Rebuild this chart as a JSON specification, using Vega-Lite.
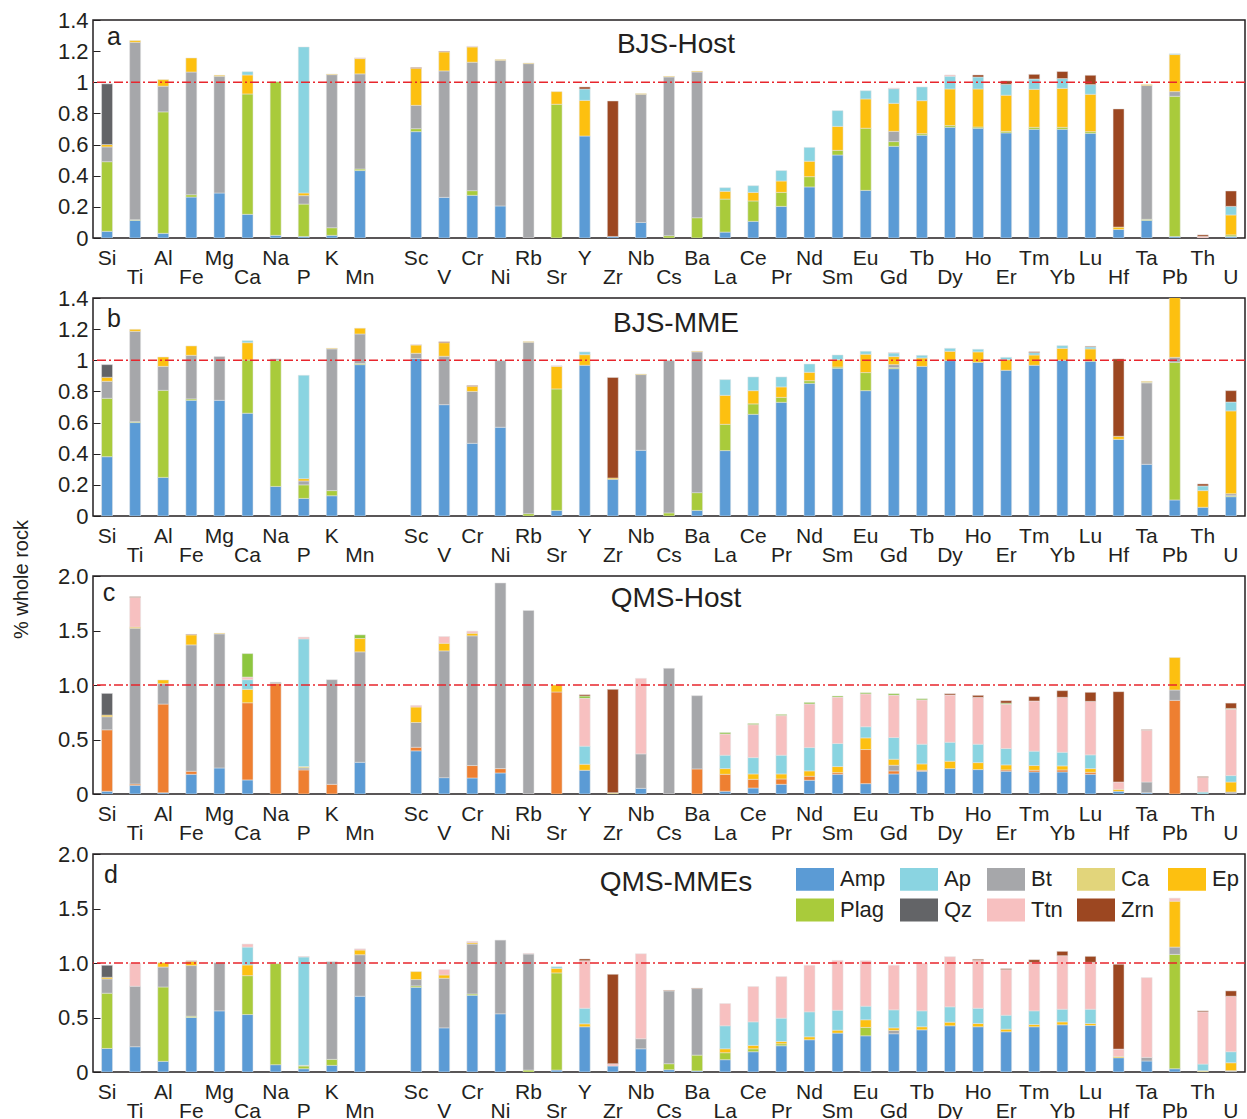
{
"$schema": "https://vega.github.io/schema/vega-lite/v6.json",
"padding": {"top": 8, "left": 10, "right": 0, "bottom": 0},
"background": "white",
"bounds": "flush",
"spacing": 60,
"config": {"font": "Liberation Sans", "view": {"stroke": "#231f20", "strokeWidth": 1.5}, "axis": {"labelOverlap": false}},
"datasets": {"d": [
{"p":"a","e":"Si","Amp":0.043,"Plag":0.447,"Bt":0.095,"Ep":0.015,"Qz":0.39},
{"p":"a","e":"Ti","Amp":0.113,"Plag":0.005,"Bt":1.139,"Ep":0.011},
{"p":"a","e":"Al","Amp":0.03,"Plag":0.78,"Bt":0.165,"Ep":0.042},
{"p":"a","e":"Fe","Amp":0.263,"Plag":0.015,"Bt":0.788,"Ep":0.09},
{"p":"a","e":"Mg","Amp":0.289,"Bt":0.75,"Ep":0.006},
{"p":"a","e":"Ca","Amp":0.152,"Plag":0.773,"Ep":0.122,"Ap":0.021},
{"p":"a","e":"Na","Amp":0.017,"Plag":0.987},
{"p":"a","e":"P","Amp":0.01,"Plag":0.208,"Bt":0.054,"Ep":0.017,"Ap":0.938},
{"p":"a","e":"K","Amp":0.017,"Plag":0.049,"Bt":0.983,"Ep":0.004},
{"p":"a","e":"Mn","Amp":0.433,"Plag":0.01,"Bt":0.611,"Ep":0.098,"Ttn":0.005},
{"p":"a","e":"Sc","Amp":0.683,"Plag":0.019,"Bt":0.15,"Ep":0.238,"Zrn":0.005},
{"p":"a","e":"V","Amp":0.261,"Bt":0.812,"Ep":0.122,"Zrn":0.004},
{"p":"a","e":"Cr","Amp":0.274,"Plag":0.03,"Bt":0.825,"Ep":0.098,"Ttn":0.004},
{"p":"a","e":"Ni","Amp":0.206,"Bt":0.935,"Ep":0.005},
{"p":"a","e":"Rb","Bt":1.12,"Ep":0.004},
{"p":"a","e":"Sr","Plag":0.859,"Ep":0.081},
{"p":"a","e":"Y","Amp":0.655,"Ep":0.229,"Ap":0.073,"Zrn":0.013},
{"p":"a","e":"Zr","Amp":0.01,"Zrn":0.87},
{"p":"a","e":"Nb","Amp":0.1,"Bt":0.823,"Ep":0.004},
{"p":"a","e":"Cs","Plag":0.015,"Bt":1.019,"Ep":0.004},
{"p":"a","e":"Ba","Plag":0.13,"Bt":0.936,"Ep":0.005},
{"p":"a","e":"La","Amp":0.038,"Plag":0.212,"Ep":0.05,"Ap":0.023},
{"p":"a","e":"Ce","Amp":0.107,"Plag":0.131,"Ep":0.055,"Ap":0.043},
{"p":"a","e":"Pr","Amp":0.203,"Plag":0.09,"Ep":0.073,"Ap":0.067},
{"p":"a","e":"Nd","Amp":0.328,"Plag":0.066,"Ep":0.099,"Ap":0.089},
{"p":"a","e":"Sm","Amp":0.533,"Plag":0.03,"Ep":0.154,"Ap":0.101},
{"p":"a","e":"Eu","Amp":0.306,"Plag":0.399,"Ep":0.188,"Ap":0.053},
{"p":"a","e":"Gd","Amp":0.589,"Plag":0.03,"Bt":0.066,"Ep":0.18,"Ap":0.094,"Ttn":0.004},
{"p":"a","e":"Tb","Amp":0.66,"Plag":0.01,"Ep":0.212,"Ap":0.088},
{"p":"a","e":"Dy","Amp":0.711,"Plag":0.011,"Ep":0.235,"Ap":0.082,"Ttn":0.008},
{"p":"a","e":"Ho","Amp":0.705,"Plag":0.008,"Ep":0.244,"Ap":0.077,"Zrn":0.013},
{"p":"a","e":"Er","Amp":0.675,"Plag":0.01,"Ep":0.232,"Ap":0.07,"Zrn":0.022},
{"p":"a","e":"Tm","Amp":0.698,"Plag":0.013,"Ep":0.244,"Ap":0.066,"Zrn":0.03},
{"p":"a","e":"Yb","Amp":0.698,"Plag":0.013,"Ep":0.25,"Ap":0.063,"Zrn":0.045},
{"p":"a","e":"Lu","Amp":0.672,"Plag":0.011,"Ep":0.24,"Ap":0.062,"Zrn":0.06},
{"p":"a","e":"Hf","Amp":0.055,"Ep":0.015,"Zrn":0.759},
{"p":"a","e":"Ta","Amp":0.113,"Plag":0.007,"Bt":0.859,"Ep":0.006},
{"p":"a","e":"Pb","Amp":0.01,"Plag":0.9,"Bt":0.03,"Ep":0.238,"Ap":0.005},
{"p":"a","e":"Th","Ttn":0.01,"Zrn":0.01},
{"p":"a","e":"U","Amp":0.01,"Plag":0.01,"Ep":0.128,"Ap":0.055,"Zrn":0.099},

{"p":"b","e":"Si","Amp":0.381,"Plag":0.375,"Bt":0.109,"Ep":0.026,"Qz":0.081},
{"p":"b","e":"Ti","Amp":0.6,"Plag":0.006,"Bt":0.58,"Ep":0.013},
{"p":"b","e":"Al","Amp":0.248,"Plag":0.559,"Bt":0.154,"Ep":0.06},
{"p":"b","e":"Fe","Amp":0.743,"Plag":0.009,"Bt":0.28,"Ep":0.06},
{"p":"b","e":"Mg","Amp":0.743,"Bt":0.281},
{"p":"b","e":"Ca","Amp":0.66,"Plag":0.342,"Ep":0.111,"Ap":0.013},
{"p":"b","e":"Na","Amp":0.19,"Plag":0.81,"Bt":0.009},
{"p":"b","e":"P","Amp":0.113,"Plag":0.087,"Bt":0.025,"Ep":0.015,"Ap":0.664},
{"p":"b","e":"K","Amp":0.13,"Plag":0.033,"Bt":0.91,"Ep":0.004},
{"p":"b","e":"Mn","Amp":0.972,"Plag":0.007,"Bt":0.19,"Ep":0.037},
{"p":"b","e":"Sc","Amp":1.011,"Bt":0.034,"Ep":0.053,"Ttn":0.003},
{"p":"b","e":"V","Amp":0.715,"Bt":0.311,"Ep":0.087,"Zrn":0.006},
{"p":"b","e":"Cr","Amp":0.467,"Bt":0.333,"Ep":0.033,"Zrn":0.005},
{"p":"b","e":"Ni","Amp":0.57,"Bt":0.428},
{"p":"b","e":"Rb","Plag":0.015,"Bt":1.101,"Ep":0.004},
{"p":"b","e":"Sr","Amp":0.036,"Plag":0.78,"Ep":0.145,"Ttn":0.004},
{"p":"b","e":"Y","Amp":0.968,"Ep":0.068,"Ap":0.018},
{"p":"b","e":"Zr","Amp":0.236,"Ep":0.008,"Zrn":0.646},
{"p":"b","e":"Nb","Amp":0.422,"Bt":0.486,"Ep":0.004},
{"p":"b","e":"Cs","Plag":0.02,"Bt":0.978},
{"p":"b","e":"Ba","Amp":0.036,"Plag":0.114,"Bt":0.904,"Ep":0.004},
{"p":"b","e":"La","Amp":0.42,"Plag":0.169,"Ep":0.186,"Ap":0.101},
{"p":"b","e":"Ce","Amp":0.653,"Plag":0.067,"Ep":0.085,"Ap":0.088},
{"p":"b","e":"Pr","Amp":0.73,"Plag":0.032,"Ep":0.067,"Ap":0.064},
{"p":"b","e":"Nd","Amp":0.852,"Plag":0.017,"Ep":0.054,"Ap":0.053},
{"p":"b","e":"Sm","Amp":0.949,"Plag":0.008,"Ep":0.047,"Ap":0.03},
{"p":"b","e":"Eu","Amp":0.805,"Plag":0.116,"Ep":0.118,"Ap":0.019},
{"p":"b","e":"Gd","Amp":0.946,"Plag":0.007,"Bt":0.019,"Ep":0.052,"Ap":0.023,"Ttn":0.003},
{"p":"b","e":"Tb","Amp":0.961,"Ep":0.054,"Ap":0.017},
{"p":"b","e":"Dy","Amp":0.998,"Ep":0.06,"Ap":0.019},
{"p":"b","e":"Ho","Amp":0.987,"Ep":0.067,"Ap":0.017},
{"p":"b","e":"Er","Amp":0.936,"Ep":0.068,"Ap":0.015},
{"p":"b","e":"Tm","Amp":0.968,"Ep":0.066,"Ap":0.015,"Zrn":0.006},
{"p":"b","e":"Yb","Amp":1.0,"Ep":0.077,"Ap":0.017},
{"p":"b","e":"Lu","Amp":0.994,"Ep":0.079,"Ap":0.013,"Zrn":0.004},
{"p":"b","e":"Hf","Amp":0.492,"Ep":0.02,"Zrn":0.497},
{"p":"b","e":"Ta","Amp":0.332,"Ca":0.006,"Bt":0.523,"Ep":0.004},
{"p":"b","e":"Pb","Amp":0.103,"Plag":0.884,"Bt":0.032,"Ep":0.45},
{"p":"b","e":"Th","Amp":0.056,"Ep":0.107,"Ap":0.03,"Zrn":0.013},
{"p":"b","e":"U","Amp":0.124,"Plag":0.006,"Bt":0.013,"Ep":0.532,"Ap":0.057,"Zrn":0.073},

{"p":"c","e":"Si","Amp":0.025,"Kfs":0.564,"Bt":0.12,"Ep":0.015,"Qz":0.199},
{"p":"c","e":"Ti","Amp":0.08,"Kfs":0.012,"Bt":1.429,"Ep":0.01,"Ttn":0.273,"Zrn":0.006},
{"p":"c","e":"Al","Amp":0.012,"Kfs":0.813,"Bt":0.187,"Ep":0.034},
{"p":"c","e":"Fe","Amp":0.181,"Kfs":0.028,"Bt":1.159,"Ep":0.092,"Zrn":0.005},
{"p":"c","e":"Mg","Amp":0.239,"Bt":1.23,"Ep":0.006},
{"p":"c","e":"Ca","Amp":0.129,"Kfs":0.708,"Ep":0.123,"Ap":0.089,"Ttn":0.022,"Plag":0.217},
{"p":"c","e":"Na","Kfs":1.015,"Bt":0.01},
{"p":"c","e":"P","Kfs":0.221,"Bt":0.018,"Ca":0.013,"Ap":1.171,"Ttn":0.016},
{"p":"c","e":"K","Kfs":0.089,"Bt":0.96},
{"p":"c","e":"Mn","Amp":0.291,"Bt":1.013,"Ep":0.122,"Plag":0.034},
{"p":"c","e":"Sc","Amp":0.396,"Kfs":0.033,"Bt":0.227,"Ep":0.142,"Ttn":0.015},
{"p":"c","e":"V","Amp":0.15,"Bt":1.163,"Ep":0.07,"Ttn":0.062},
{"p":"c","e":"Cr","Amp":0.147,"Kfs":0.114,"Bt":1.19,"Ep":0.024,"Ttn":0.019},
{"p":"c","e":"Ni","Amp":0.193,"Kfs":0.04,"Bt":1.703},
{"p":"c","e":"Rb","Bt":1.684},
{"p":"c","e":"Sr","Kfs":0.936,"Ep":0.064},
{"p":"c","e":"Y","Amp":0.218,"Ep":0.055,"Ap":0.166,"Ttn":0.438,"Plag":0.022,"Zrn":0.012},
{"p":"c","e":"Zr","Ca":0.012,"Zrn":0.948},
{"p":"c","e":"Nb","Amp":0.052,"Bt":0.316,"Ttn":0.693},
{"p":"c","e":"Cs","Bt":1.153},
{"p":"c","e":"Ba","Kfs":0.23,"Bt":0.672},
{"p":"c","e":"La","Amp":0.025,"Kfs":0.156,"Ep":0.052,"Ap":0.123,"Ttn":0.193,"Plag":0.015},
{"p":"c","e":"Ce","Amp":0.055,"Kfs":0.08,"Ep":0.049,"Ap":0.15,"Ttn":0.301,"Plag":0.012},
{"p":"c","e":"Pr","Amp":0.089,"Kfs":0.049,"Ep":0.046,"Ap":0.172,"Ttn":0.362,"Plag":0.012},
{"p":"c","e":"Nd","Amp":0.126,"Kfs":0.037,"Ep":0.049,"Ap":0.214,"Ttn":0.399,"Plag":0.015},
{"p":"c","e":"Sm","Amp":0.181,"Kfs":0.015,"Ep":0.056,"Ap":0.211,"Ttn":0.424,"Plag":0.012},
{"p":"c","e":"Eu","Amp":0.095,"Kfs":0.313,"Ep":0.107,"Ap":0.102,"Ttn":0.3,"Plag":0.012},
{"p":"c","e":"Gd","Amp":0.184,"Kfs":0.028,"Bt":0.052,"Ep":0.055,"Ap":0.199,"Ttn":0.387,"Plag":0.015},
{"p":"c","e":"Tb","Amp":0.209,"Kfs":0.009,"Ep":0.058,"Ap":0.181,"Ttn":0.405,"Plag":0.012},
{"p":"c","e":"Dy","Amp":0.233,"Ep":0.068,"Ap":0.174,"Ttn":0.433,"Zrn":0.012},
{"p":"c","e":"Ho","Amp":0.224,"Ep":0.064,"Ap":0.169,"Ttn":0.43,"Zrn":0.018},
{"p":"c","e":"Er","Amp":0.209,"Kfs":0.012,"Ep":0.046,"Ap":0.15,"Ttn":0.405,"Plag":0.012,"Zrn":0.022},
{"p":"c","e":"Tm","Amp":0.202,"Kfs":0.016,"Ep":0.043,"Ap":0.132,"Ttn":0.46,"Zrn":0.04},
{"p":"c","e":"Yb","Amp":0.202,"Kfs":0.019,"Ep":0.037,"Ap":0.125,"Ttn":0.504,"Zrn":0.061},
{"p":"c","e":"Lu","Amp":0.181,"Kfs":0.018,"Ep":0.034,"Ap":0.126,"Ttn":0.491,"Zrn":0.083},
{"p":"c","e":"Hf","Amp":0.025,"Ep":0.018,"Ttn":0.067,"Zrn":0.829},
{"p":"c","e":"Ta","Amp":0.012,"Bt":0.098,"Ttn":0.476,"Zrn":0.004},
{"p":"c","e":"Pb","Kfs":0.859,"Bt":0.095,"Ep":0.298},
{"p":"c","e":"Th","Ap":0.018,"Ttn":0.135,"Zrn":0.007},
{"p":"c","e":"U","Bt":0.018,"Ep":0.092,"Ap":0.059,"Ttn":0.607,"Plag":0.009,"Zrn":0.049},

{"p":"d","e":"Si","Amp":0.216,"Plag":0.507,"Bt":0.131,"Ep":0.015,"Qz":0.11},
{"p":"d","e":"Ti","Amp":0.232,"Bt":0.555,"Ttn":0.213},
{"p":"d","e":"Al","Amp":0.098,"Plag":0.682,"Bt":0.183,"Ep":0.04},
{"p":"d","e":"Fe","Amp":0.5,"Plag":0.012,"Bt":0.464,"Ep":0.039,"Zrn":0.005},
{"p":"d","e":"Mg","Amp":0.561,"Bt":0.442},
{"p":"d","e":"Ca","Amp":0.527,"Plag":0.357,"Ep":0.098,"Ap":0.164,"Ttn":0.028},
{"p":"d","e":"Na","Amp":0.067,"Plag":0.927},
{"p":"d","e":"P","Amp":0.03,"Plag":0.025,"Ca":0.006,"Ap":0.994,"Ttn":0.005},
{"p":"d","e":"K","Amp":0.061,"Plag":0.055,"Bt":0.896},
{"p":"d","e":"Mn","Amp":0.695,"Bt":0.381,"Ep":0.043,"Ttn":0.011},
{"p":"d","e":"Sc","Amp":0.777,"Plag":0.013,"Bt":0.058,"Ep":0.073},
{"p":"d","e":"V","Amp":0.405,"Bt":0.455,"Ep":0.03,"Ttn":0.049},
{"p":"d","e":"Cr","Amp":0.704,"Plag":0.012,"Bt":0.458,"Ep":0.012,"Ttn":0.012},
{"p":"d","e":"Ni","Amp":0.534,"Bt":0.676},
{"p":"d","e":"Rb","Plag":0.018,"Bt":1.064,"Ttn":0.006},
{"p":"d","e":"Sr","Amp":0.018,"Plag":0.891,"Ep":0.042,"Ap":0.015},
{"p":"d","e":"Y","Amp":0.415,"Ep":0.027,"Ap":0.143,"Ttn":0.436,"Zrn":0.016},
{"p":"d","e":"Zr","Amp":0.055,"Ttn":0.021,"Zrn":0.82},
{"p":"d","e":"Nb","Amp":0.213,"Bt":0.092,"Ttn":0.78},
{"p":"d","e":"Cs","Amp":0.021,"Plag":0.055,"Bt":0.668,"Zrn":0.005},
{"p":"d","e":"Ba","Amp":0.01,"Plag":0.145,"Bt":0.61,"Zrn":0.005},
{"p":"d","e":"La","Amp":0.113,"Plag":0.064,"Ep":0.036,"Ap":0.211,"Ttn":0.204},
{"p":"d","e":"Ce","Amp":0.186,"Plag":0.027,"Ep":0.031,"Ap":0.216,"Ttn":0.324},
{"p":"d","e":"Pr","Amp":0.241,"Plag":0.018,"Ep":0.021,"Ap":0.214,"Ttn":0.381},
{"p":"d","e":"Nd","Amp":0.296,"Ep":0.027,"Ap":0.229,"Ttn":0.427},
{"p":"d","e":"Sm","Amp":0.357,"Ep":0.027,"Ap":0.183,"Ttn":0.457},
{"p":"d","e":"Eu","Amp":0.332,"Plag":0.077,"Ep":0.07,"Ap":0.125,"Ttn":0.417},
{"p":"d","e":"Gd","Amp":0.351,"Bt":0.03,"Ep":0.024,"Ap":0.165,"Ttn":0.409},
{"p":"d","e":"Tb","Amp":0.387,"Ep":0.028,"Ap":0.146,"Ttn":0.436},
{"p":"d","e":"Dy","Amp":0.424,"Ep":0.033,"Ap":0.141,"Ttn":0.46},
{"p":"d","e":"Ho","Amp":0.415,"Ep":0.03,"Ap":0.14,"Ttn":0.439,"Zrn":0.01},
{"p":"d","e":"Er","Amp":0.369,"Ep":0.024,"Ap":0.128,"Ttn":0.418,"Zrn":0.009},
{"p":"d","e":"Tm","Amp":0.415,"Ep":0.021,"Ap":0.125,"Ttn":0.445,"Zrn":0.024},
{"p":"d","e":"Yb","Amp":0.433,"Ep":0.027,"Ap":0.116,"Ttn":0.491,"Zrn":0.04},
{"p":"d","e":"Lu","Amp":0.427,"Ep":0.018,"Ap":0.131,"Ttn":0.43,"Zrn":0.055},
{"p":"d","e":"Hf","Amp":0.131,"Ep":0.012,"Ttn":0.067,"Zrn":0.778},
{"p":"d","e":"Ta","Amp":0.101,"Bt":0.033,"Ttn":0.732},
{"p":"d","e":"Pb","Amp":0.03,"Plag":1.049,"Bt":0.067,"Ep":0.421,"Ttn":0.028},
{"p":"d","e":"Th","Ca":0.012,"Ap":0.061,"Ttn":0.479,"Zrn":0.009},
{"p":"d","e":"U","Bt":0.012,"Ep":0.073,"Ap":0.101,"Ttn":0.509,"Zrn":0.049}
]},
"resolve": {"scale": {"x": "independent", "y": "independent", "color": "independent"}, "legend": {"color": "independent"}},
"vconcat": [
{"width": 1152, "height": 218,
 "layer": [
  {"data": {"name": "d"},
   "transform": [{"filter": "datum.p == 'a'"}, {"fold": ["Amp","Kfs","Plag","Bt","Ca","Ep","Ap","Qz","Ttn","Zrn"], "as": ["m","v"]}, {"filter": "isValid(datum.v) && datum.v > 0"}, {"calculate": "indexof(['Amp','Kfs','Plag','Bt','Ca','Ep','Ap','Qz','Ttn','Zrn'], datum.m)", "as": "o"}],
   "mark": {"type": "bar", "stroke": "#e4e4e4", "strokeWidth": 0.5, "clip": true},
   "encoding": {
    "x": {"field": "e", "type": "nominal", "scale": {"domain": ["Si","Ti","Al","Fe","Mg","Ca","Na","P","K","Mn","_","Sc","V","Cr","Ni","Rb","Sr","Y","Zr","Nb","Cs","Ba","La","Ce","Pr","Nd","Sm","Eu","Gd","Tb","Dy","Ho","Er","Tm","Yb","Lu","Hf","Ta","Pb","Th","U"], "paddingInner": 0.61, "paddingOuter": 0.305},
     "axis": {"title": null, "ticks": false, "domain": false, "grid": false, "labelExpr": "datum.value == '_' ? '' : indexof(['Si','Al','Mg','Na','K','Sc','Cr','Rb','Y','Nb','Ba','Ce','Nd','Eu','Tb','Ho','Tm','Lu','Ta','Th'], datum.value) >= 0 ? datum.value : ['', datum.value]", "labelFontSize": 21, "labelLineHeight": 19, "labelPadding": 9, "labelBaseline": "top", "labelAngle": 0, "labelOverlap": false, "labelBound": false, "labelFlush": false, "labelColor": "#231f20"}},
    "y": {"field": "v", "type": "quantitative", "stack": "zero", "scale": {"domain": [0, 1.4], "nice": false},
     "axis": {"title": null, "values": [0,0.2,0.4,0.6,0.8,1,1.2,1.4], "tickCount": 20, "labelExpr": "datum.value == 0 ? '0' : datum.value == 1 ? '1' : format(datum.value, '.1f')", "labelOverlap": false, "labelFlush": false, "labelBound": false, "domain": false, "grid": false, "tickSize": -7, "tickColor": "#231f20", "labelFontSize": 22, "labelPadding": 12, "labelColor": "#231f20"}},
    "color": {"field": "m", "type": "nominal", "scale": {"domain": ["Amp","Ap","Bt","Ca","Ep","Plag","Qz","Ttn","Zrn","Kfs"], "range": ["#5b9bd5","#8ad4e1","#a6a7aa","#e2d57b","#fdc010","#a9cb3b","#636467","#f7c0c0","#9c4721","#ee7f31"]}, "legend": null},
    "order": {"field": "o", "type": "quantitative", "sort": "ascending"}
   }},
  {"data": {"values": [{}]}, "mark": {"type": "rule", "color": "#e8262d", "strokeDash": [9,3,2,3], "strokeWidth": 1.5}, "encoding": {"y": {"datum": 1}}},
  {"data": {"values": [{}]}, "mark": {"type": "text", "fontSize": 25, "align": "center", "baseline": "alphabetic", "dx": 7, "color": "#231f20"}, "encoding": {"x": {"datum": "Si"}, "y": {"datum": 1.242}, "text": {"value": "a"}}},
  {"data": {"values": [{}]}, "mark": {"type": "text", "fontSize": 28, "align": "center", "baseline": "alphabetic", "dx": 7, "color": "#231f20"}, "encoding": {"x": {"datum": "Cs"}, "y": {"datum": 1.19}, "text": {"value": "BJS-Host"}}}
 ]},
{"width": 1152, "height": 218,
 "layer": [
  {"data": {"name": "d"},
   "transform": [{"filter": "datum.p == 'b'"}, {"fold": ["Amp","Kfs","Plag","Bt","Ca","Ep","Ap","Qz","Ttn","Zrn"], "as": ["m","v"]}, {"filter": "isValid(datum.v) && datum.v > 0"}, {"calculate": "indexof(['Amp','Kfs','Plag','Bt','Ca','Ep','Ap','Qz','Ttn','Zrn'], datum.m)", "as": "o"}],
   "mark": {"type": "bar", "stroke": "#e4e4e4", "strokeWidth": 0.5, "clip": true},
   "encoding": {
    "x": {"field": "e", "type": "nominal", "scale": {"domain": ["Si","Ti","Al","Fe","Mg","Ca","Na","P","K","Mn","_","Sc","V","Cr","Ni","Rb","Sr","Y","Zr","Nb","Cs","Ba","La","Ce","Pr","Nd","Sm","Eu","Gd","Tb","Dy","Ho","Er","Tm","Yb","Lu","Hf","Ta","Pb","Th","U"], "paddingInner": 0.61, "paddingOuter": 0.305},
     "axis": {"title": null, "ticks": false, "domain": false, "grid": false, "labelExpr": "datum.value == '_' ? '' : indexof(['Si','Al','Mg','Na','K','Sc','Cr','Rb','Y','Nb','Ba','Ce','Nd','Eu','Tb','Ho','Tm','Lu','Ta','Th'], datum.value) >= 0 ? datum.value : ['', datum.value]", "labelFontSize": 21, "labelLineHeight": 19, "labelPadding": 9, "labelBaseline": "top", "labelAngle": 0, "labelOverlap": false, "labelBound": false, "labelFlush": false, "labelColor": "#231f20"}},
    "y": {"field": "v", "type": "quantitative", "stack": "zero", "scale": {"domain": [0, 1.4], "nice": false},
     "axis": {"title": null, "values": [0,0.2,0.4,0.6,0.8,1,1.2,1.4], "tickCount": 20, "labelExpr": "datum.value == 0 ? '0' : datum.value == 1 ? '1' : format(datum.value, '.1f')", "labelOverlap": false, "labelFlush": false, "labelBound": false, "domain": false, "grid": false, "tickSize": -7, "tickColor": "#231f20", "labelFontSize": 22, "labelPadding": 12, "labelColor": "#231f20"}},
    "color": {"field": "m", "type": "nominal", "scale": {"domain": ["Amp","Ap","Bt","Ca","Ep","Plag","Qz","Ttn","Zrn","Kfs"], "range": ["#5b9bd5","#8ad4e1","#a6a7aa","#e2d57b","#fdc010","#a9cb3b","#636467","#f7c0c0","#9c4721","#ee7f31"]}, "legend": null},
    "order": {"field": "o", "type": "quantitative", "sort": "ascending"}
   }},
  {"data": {"values": [{}]}, "mark": {"type": "rule", "color": "#e8262d", "strokeDash": [9,3,2,3], "strokeWidth": 1.5}, "encoding": {"y": {"datum": 1}}},
  {"data": {"values": [{}]}, "mark": {"type": "text", "fontSize": 25, "align": "center", "baseline": "alphabetic", "dx": 7, "color": "#231f20"}, "encoding": {"x": {"datum": "Si"}, "y": {"datum": 1.213}, "text": {"value": "b"}}},
  {"data": {"values": [{}]}, "mark": {"type": "text", "fontSize": 28, "align": "center", "baseline": "alphabetic", "dx": 7, "color": "#231f20"}, "encoding": {"x": {"datum": "Cs"}, "y": {"datum": 1.18}, "text": {"value": "BJS-MME"}}}
 ]},
{"width": 1152, "height": 218,
 "layer": [
  {"data": {"name": "d"},
   "transform": [{"filter": "datum.p == 'c'"}, {"fold": ["Amp","Kfs","Plag","Bt","Ca","Ep","Ap","Qz","Ttn","Zrn"], "as": ["m","v"]}, {"filter": "isValid(datum.v) && datum.v > 0"}, {"calculate": "indexof(['Amp','Kfs','Bt','Ca','Ep','Ap','Qz','Ttn','Plag','Zrn'], datum.m)", "as": "o"}],
   "mark": {"type": "bar", "stroke": "#e4e4e4", "strokeWidth": 0.5, "clip": true},
   "encoding": {
    "x": {"field": "e", "type": "nominal", "scale": {"domain": ["Si","Ti","Al","Fe","Mg","Ca","Na","P","K","Mn","_","Sc","V","Cr","Ni","Rb","Sr","Y","Zr","Nb","Cs","Ba","La","Ce","Pr","Nd","Sm","Eu","Gd","Tb","Dy","Ho","Er","Tm","Yb","Lu","Hf","Ta","Pb","Th","U"], "paddingInner": 0.61, "paddingOuter": 0.305},
     "axis": {"title": null, "ticks": false, "domain": false, "grid": false, "labelExpr": "datum.value == '_' ? '' : indexof(['Si','Al','Mg','Na','K','Sc','Cr','Rb','Y','Nb','Ba','Ce','Nd','Eu','Tb','Ho','Tm','Lu','Ta','Th'], datum.value) >= 0 ? datum.value : ['', datum.value]", "labelFontSize": 21, "labelLineHeight": 19, "labelPadding": 9, "labelBaseline": "top", "labelAngle": 0, "labelOverlap": false, "labelBound": false, "labelFlush": false, "labelColor": "#231f20"}},
    "y": {"field": "v", "type": "quantitative", "stack": "zero", "scale": {"domain": [0, 2], "nice": false},
     "axis": {"title": "% whole rock", "titleFontSize": 20, "titleFontWeight": "normal", "titleColor": "#231f20", "titleX": -72, "titleY": 3, "titleAlign": "center", "titleBaseline": "middle", "titleAngle": -90, "values": [0,0.5,1,1.5,2], "tickCount": 20, "labelExpr": "datum.value == 0 ? '0' : format(datum.value, '.1f')", "labelOverlap": false, "labelFlush": false, "labelBound": false, "domain": false, "grid": false, "tickSize": -7, "tickColor": "#231f20", "labelFontSize": 22, "labelPadding": 12, "labelColor": "#231f20"}},
    "color": {"field": "m", "type": "nominal", "scale": {"domain": ["Amp","Ap","Bt","Ca","Ep","Plag","Qz","Ttn","Zrn","Kfs"], "range": ["#5b9bd5","#8ad4e1","#a6a7aa","#e2d57b","#fdc010","#8dc63f","#636467","#f7c0c0","#9c4721","#ee7f31"]}, "legend": null},
    "order": {"field": "o", "type": "quantitative", "sort": "ascending"}
   }},
  {"data": {"values": [{}]}, "mark": {"type": "rule", "color": "#e8262d", "strokeDash": [9,3,2,3], "strokeWidth": 1.5}, "encoding": {"y": {"datum": 1}}},
  {"data": {"values": [{}]}, "mark": {"type": "text", "fontSize": 25, "align": "center", "baseline": "alphabetic", "dx": 2, "color": "#231f20"}, "encoding": {"x": {"datum": "Si"}, "y": {"datum": 1.773}, "text": {"value": "c"}}},
  {"data": {"values": [{}]}, "mark": {"type": "text", "fontSize": 28, "align": "center", "baseline": "alphabetic", "dx": 7, "color": "#231f20"}, "encoding": {"x": {"datum": "Cs"}, "y": {"datum": 1.72}, "text": {"value": "QMS-Host"}}}
 ]},
{"width": 1152, "height": 218,
 "layer": [
  {"data": {"name": "d"},
   "transform": [{"filter": "datum.p == 'd'"}, {"fold": ["Amp","Kfs","Plag","Bt","Ca","Ep","Ap","Qz","Ttn","Zrn"], "as": ["m","v"]}, {"filter": "isValid(datum.v) && datum.v > 0"}, {"calculate": "indexof(['Amp','Kfs','Plag','Bt','Ca','Ep','Ap','Qz','Ttn','Zrn'], datum.m)", "as": "o"}],
   "mark": {"type": "bar", "stroke": "#e4e4e4", "strokeWidth": 0.5, "clip": true},
   "encoding": {
    "x": {"field": "e", "type": "nominal", "scale": {"domain": ["Si","Ti","Al","Fe","Mg","Ca","Na","P","K","Mn","_","Sc","V","Cr","Ni","Rb","Sr","Y","Zr","Nb","Cs","Ba","La","Ce","Pr","Nd","Sm","Eu","Gd","Tb","Dy","Ho","Er","Tm","Yb","Lu","Hf","Ta","Pb","Th","U"], "paddingInner": 0.61, "paddingOuter": 0.305},
     "axis": {"title": null, "ticks": false, "domain": false, "grid": false, "labelExpr": "datum.value == '_' ? '' : indexof(['Si','Al','Mg','Na','K','Sc','Cr','Rb','Y','Nb','Ba','Ce','Nd','Eu','Tb','Ho','Tm','Lu','Ta','Th'], datum.value) >= 0 ? datum.value : ['', datum.value]", "labelFontSize": 21, "labelLineHeight": 19, "labelPadding": 9, "labelBaseline": "top", "labelAngle": 0, "labelOverlap": false, "labelBound": false, "labelFlush": false, "labelColor": "#231f20"}},
    "y": {"field": "v", "type": "quantitative", "stack": "zero", "scale": {"domain": [0, 2], "nice": false},
     "axis": {"title": null, "values": [0,0.5,1,1.5,2], "tickCount": 20, "labelExpr": "datum.value == 0 ? '0' : format(datum.value, '.1f')", "labelOverlap": false, "labelFlush": false, "labelBound": false, "domain": false, "grid": false, "tickSize": -7, "tickColor": "#231f20", "labelFontSize": 22, "labelPadding": 12, "labelColor": "#231f20"}},
    "color": {"field": "m", "type": "nominal", "scale": {"domain": ["Amp","Ap","Bt","Ca","Ep","Plag","Qz","Ttn","Zrn","Kfs"], "range": ["#5b9bd5","#8ad4e1","#a6a7aa","#e2d57b","#fdc010","#a9cb3b","#636467","#f7c0c0","#9c4721","#ee7f31"]},
     "legend": {"orient": "none", "legendX": 703, "legendY": 6, "direction": "horizontal", "columns": 5, "values": ["Amp","Ap","Bt","Ca","Ep","Plag","Qz","Ttn","Zrn"], "title": null, "symbolType": "M-1,-0.6L1,-0.6L1,0.6L-1,0.6Z", "symbolSize": 1444, "symbolStrokeWidth": 0, "symbolOpacity": 1, "labelFontSize": 22, "labelOffset": 6, "labelColor": "#231f20", "columnPadding": 14, "rowPadding": -2, "gridAlign": "each", "padding": 0}},
    "order": {"field": "o", "type": "quantitative", "sort": "ascending"}
   }},
  {"data": {"values": [{}]}, "mark": {"type": "rule", "color": "#e8262d", "strokeDash": [9,3,2,3], "strokeWidth": 1.5}, "encoding": {"y": {"datum": 1}}},
  {"data": {"values": [{}]}, "mark": {"type": "text", "fontSize": 25, "align": "center", "baseline": "alphabetic", "dx": 4, "color": "#231f20"}, "encoding": {"x": {"datum": "Si"}, "y": {"datum": 1.732}, "text": {"value": "d"}}},
  {"data": {"values": [{}]}, "mark": {"type": "text", "fontSize": 28, "align": "center", "baseline": "alphabetic", "dx": 7, "color": "#231f20"}, "encoding": {"x": {"datum": "Cs"}, "y": {"datum": 1.665}, "text": {"value": "QMS-MMEs"}}}
 ]}
]
}
